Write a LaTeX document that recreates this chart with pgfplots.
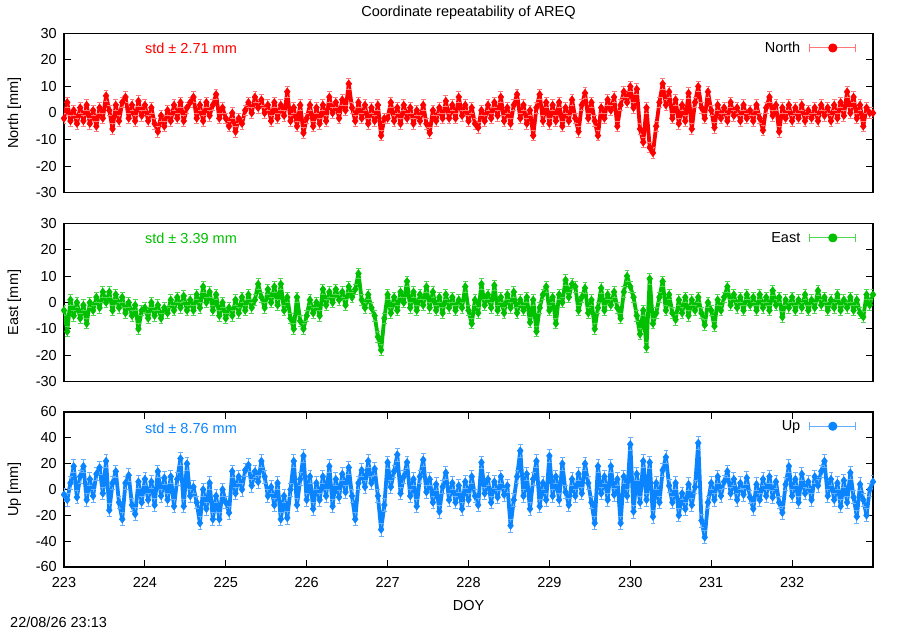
\documentclass[border=0pt]{standalone}
\usepackage{fontspec}
\setmainfont{Liberation Sans}
\usepackage{pgfplots}
\usepackage{pgfplotstable}
\pgfplotsset{compat=1.18}
\definecolor{cN}{RGB}{255,0,0}
\definecolor{cNl}{RGB}{255,120,120}
\definecolor{cE}{RGB}{0,192,0}
\definecolor{cEl}{RGB}{80,215,80}
\definecolor{cU}{RGB}{10,132,255}
\definecolor{cUl}{RGB}{100,175,255}

\pgfplotstableread{
x n e u
223.00 -2 -3 -4
223.04 4 -11 -8
223.08 -3 1 5
223.12 1 -5 18
223.16 -4 0 -6
223.20 2 -6 10
223.24 -3 -1 18
223.28 3 -8 -8
223.32 -4 0 8
223.36 1 -3 -5
223.40 -5 2 12
223.44 2 -2 17
223.48 -2 4 -3
223.52 6.5 0 22
223.56 1 4 -16
223.60 -6 -3 5
223.64 3 3 14
223.68 -3 -2 -10
223.72 4 2 -23
223.76 6 -4 5
223.80 -2 0 11
223.84 3 -5 -12
223.88 -3 -1 -19
223.92 4.5 -10 6
223.96 -1 -3 -10
224.00 3 -2 8
224.04 -3 -6 -8
224.08 2 0 6
224.12 -4 -5 -12
224.16 -7 -1 14
224.20 -1 -6 -5
224.24 -5 -2 9
224.28 1 -4 -8
224.32 -3 1 10
224.36 3 -3 -13
224.40 -2 2 8
224.44 4 -2 24
224.48 -3 2.5 -13
224.52 2 -3 20
224.56 4 1 -5
224.60 6 -3 2
224.64 -2 3 -10
224.68 3 -2 -26
224.72 -3 6 0
224.76 4 0 -15
224.80 -1 4 5
224.84 3 -3 -23
224.88 7 3 -5
224.92 -2 -5 -23
224.96 2 0 0
225.00 -2 -6 -10
225.04 -5 -2 -18
225.08 0 -5 14
225.12 -7 1 -3
225.16 -2 -4 10
225.20 -4 2 0
225.24 1 -3 15
225.28 4 3 19
225.32 0 -2 3
225.36 6 1 14
225.40 2 7 6
225.44 5 2 22
225.48 0 -2 10
225.52 3 5 -5
225.56 -3 0 2
225.60 4 6 -12
225.64 -2 -1 5
225.68 3 7 -23
225.72 -1 -3 -5
225.76 8 2 -22
225.80 -3 -6 0
225.84 2 -10 22
225.88 -5 2 -12
225.92 3 -7 8
225.96 -7.5 -10 26
226.00 -2 -5 -8
226.04 3 1 10
226.08 -5 -4 -15
226.12 2 0 5
226.16 -4 -5 -8
226.20 3 5 10
226.24 -3 -1 -5
226.28 6 4 18
226.32 0 0 -13
226.36 4 5 8
226.40 -2 1 -6
226.44 5 4 12
226.48 1 -1 -2
226.52 11 6 17
226.56 2 2 -5
226.60 -3 5 -23
226.64 4 11 5
226.68 -2 1 15
226.72 3 -2 2
226.76 -4 3 22
226.80 2 -2 5
226.84 -3 -5 16
226.88 3 -13 -5
226.92 -8.5 -18 -31
226.96 -2 -6 -12
227.00 -2 3 21
227.04 4 -4 2
227.08 -3 2 14
227.12 2 -3 27
227.16 -4 4 -3
227.20 3 0 10
227.24 -2 8 21
227.28 2 -2 -5
227.32 -4 4 8
227.36 1 -3 -13
227.40 -3 3 10
227.44 3 -1 23
227.48 -4 6 -2
227.52 -7.5 -2 8
227.56 1 4 -10
227.60 -3 -3 4
227.64 2 2 -17
227.68 -2 -4 2
227.72 4.5 3 13
227.76 -2 -2 -8
227.80 3 2 5
227.84 -2 -3 -10
227.88 6 1 3
227.92 -1 -2 -15
227.96 3 6 6
228.00 -3 -3 -8
228.04 2 -8 10
228.08 -4 1 -5
228.12 -5.5 -4 -12
228.16 1 7 21
228.20 -3 -1 -3
228.24 3 3 8
228.28 -2 -2 -10
228.32 4 6.5 6
228.36 -1 -3 -6
228.40 6 2 10
228.44 -3 -4 -4
228.48 2 3 3
228.52 -4 -2 -28
228.56 3 4 -8
228.60 7 -4 10
228.64 -2 1 30
228.68 3 -3 -5
228.72 -4 2 12
228.76 1 -7.5 -15
228.80 -8.5 1 8
228.84 2 -11 22
228.88 7 -2 -13
228.92 -3 3 5
228.96 4 6 -8
229.00 -4 -3 26
229.04 3 2 -5
229.08 -3 -8 10
229.12 4 3 -8
229.16 -5 0 20
229.20 2 8.5 -2
229.24 -3 2 -12
229.28 5 7 8
229.32 -2 6 -5
229.36 -7 -3 12
229.40 3 2 -3
229.44 7.5 5.5 20
229.48 -2 -4 5
229.52 4 1 -10
229.56 -3 -10 -26
229.60 -8.5 -2 18
229.64 2 5.5 -3
229.68 -2 -3 10
229.72 5 3 -8
229.76 1 -1 18
229.80 6 4 -4
229.84 -5 -2 8
229.88 3 -6 -26
229.92 8 4 10
229.96 4 10 -5
230.00 10 6 35
230.04 2 2 -17
230.08 9 -5 12
230.12 -6 -12 -10
230.16 -11 -3 22
230.20 2 -17 -8
230.24 -13 9 21
230.28 -15 -8 -21
230.32 -5 -4 5
230.36 4 2 -10
230.40 11 8 15
230.44 3 -3 25
230.48 8 3 3
230.52 -2 -4 -10
230.56 5 -6.5 5
230.60 -4 1 -20
230.64 3 -4 -3
230.68 -3 2 -15
230.72 7.5 -5 4
230.76 -6 1 -12
230.80 4 -3 2
230.84 10 2 36
230.88 2 -4 -24
230.92 -2 -8.5 -37
230.96 8 0 -10
231.00 1 -3 5
231.04 -5.5 -9 -8
231.08 3 1 10
231.12 -2 -3 -5
231.16 2 2 6
231.20 -3 6 14
231.24 4 -1 -3
231.28 -1 3 8
231.32 2 -2 -8
231.36 -3 2 5
231.40 3 -3 -4
231.44 -2 3 9
231.48 1 -1 -6
231.52 -3 2 -15
231.56 3 -3 4
231.60 -2 3 -8
231.64 -6.5 -2 8
231.68 2 2 -5
231.72 6 -3 10
231.76 -1 4.5 -6
231.80 3 -1 6
231.84 -7 2 -10
231.88 2 -5.5 -18
231.92 -2 1 4
231.96 3 -2 18
232.00 -3 2 -5
232.04 2 -3 8
232.08 -2 1 -10
232.12 3 -2 12
232.16 -3 3 -3
232.20 1 -3 6
232.24 -2 1 -8
232.28 2 -2 10
232.32 -3 4.5 3
232.36 3 -1 14
232.40 -1 2 22
232.44 2 -3 -5
232.48 -3 1 8
232.52 3 -2 -8
232.56 -2 3 5
232.60 4 -3 -13
232.64 -1 1 7
232.68 8 -2 -10
232.72 0 2 13
232.76 6 -3 -6
232.80 -2 1 -21
232.84 3 -4 4
232.88 -5 -5.5 -8
232.92 2 3 -20
232.96 0 -1 0
233.00 0 3 6
}\data

\pgfplotsset{
  panel/.style={
    scale only axis, width=809pt,
    xmin=223, xmax=233,
    axis line style={line width=1.2pt},
    tick style={line width=0.9pt, black},
    major tick length=7pt, tick align=inside,
    ytick pos=both, yticklabel pos=left,
    yticklabel style={inner sep=0pt, xshift=-7pt},
    xticklabel style={inner sep=0pt, yshift=-10pt},
    every axis y label/.style={at={(axis description cs:-0.0612,0.5)}, rotate=90, anchor=center, inner sep=0pt},
    legend cell align=right,
    legend plot pos=right,
    legend style={at={(axis description cs:0.9796,0.908)}, anchor=east, draw=none, fill=none, inner sep=0pt, column sep=9pt, nodes={inner sep=0pt}},
  },
  series/.style n args={3}{
    color=#1, line width=3.8pt, line join=round, mark=diamond*, mark size=3.8pt,
    mark options={solid, fill=#1, draw=#1, line width=0.6pt},
    error bars/y dir=both, error bars/y fixed=#3,
    error bars/error bar style={color=#2, line width=0.8pt},
    error bars/error mark options={rotate=90, color=#2, mark size=2.4pt, line width=0.8pt},
    legend image code/.code={
      \draw[#2, line width=1pt] (0pt,0pt) -- (46pt,0pt);
      \draw[#2, line width=1pt] (0pt,-4pt) -- (0pt,4pt) (46pt,-4pt) -- (46pt,4pt);
      \fill[#1] (23pt,0pt) circle (2.6pt);
    },
  },
}

\begin{document}
\begin{tikzpicture}[font=\fontsize{14.5}{17}\selectfont]
\useasboundingbox (0pt,0pt) rectangle (900pt,630pt);

\begin{axis}[panel, at={(64pt,596.7pt)}, anchor=north west, height=159.4pt,
  ymin=-30, ymax=30, ytick={-30,-20,-10,0,10,20,30},
  yticklabels={-30,-20,-10,0,10,20,30},
  xtick=\empty, ylabel={North [mm]}]
\addplot[series={cN}{cNl}{2}] table[x=x, y=n] {\data};
\addlegendentry{North}
\node[anchor=base west, inner sep=0pt, text=cN] at (axis description cs:0.1,0.8745) {std ± 2.71 mm};
\end{axis}

\begin{axis}[panel, at={(64pt,406.7pt)}, anchor=north west, height=158.4pt,
  ymin=-30, ymax=30, ytick={-30,-20,-10,0,10,20,30},
  yticklabels={-30,-20,-10,0,10,20,30},
  xtick=\empty, ylabel={East [mm]}]
\addplot[series={cE}{cEl}{2}] table[x=x, y=e] {\data};
\addlegendentry{East}
\node[anchor=base west, inner sep=0pt, text=cE] at (axis description cs:0.1,0.874) {std ± 3.39 mm};
\end{axis}

\begin{axis}[panel, at={(64pt,218pt)}, anchor=north west, height=155pt,
  ymin=-60, ymax=60, ytick={-60,-40,-20,0,20,40,60},
  yticklabels={-60,-40,-20,0,20,40,60},
  xtick={223,224,225,226,227,228,229,230,231,232},
  xticklabels={223,224,225,226,227,228,229,230,231,232},
  xtick pos=both, xticklabel pos=bottom,
  ylabel={Up [mm]}]
\addplot[series={cU}{cUl}{5}] table[x=x, y=u] {\data};
\addlegendentry{Up}
\node[anchor=base west, inner sep=0pt, text=cU] at (axis description cs:0.1,0.861) {std ± 8.76 mm};
\end{axis}

\node[anchor=base, inner sep=0pt] at (468.5pt,613.3pt) {Coordinate repeatability of AREQ};
\node[anchor=base, inner sep=0pt] at (468.5pt,20pt) {DOY};
\node[anchor=base west, inner sep=0pt] at (10pt,2.7pt) {22/08/26 23:13};
\end{tikzpicture}
\end{document}
